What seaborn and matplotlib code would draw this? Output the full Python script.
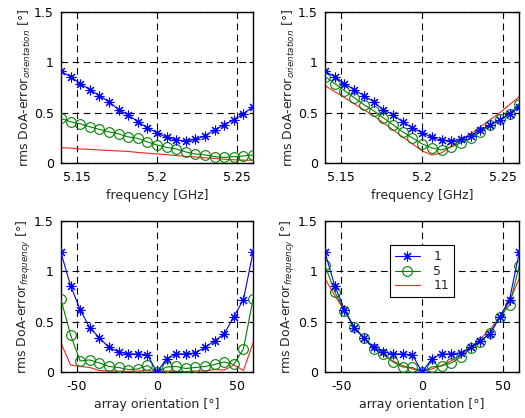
import matplotlib
matplotlib.use("Agg")
import matplotlib.pyplot as plt
import seaborn as sns
import numpy as np

# frequency axis (GHz) and array orientation axis (deg)
freq = [5.140, 5.146, 5.152, 5.158, 5.164, 5.170, 5.176, 5.182, 5.188, 5.194, 5.200,
        5.206, 5.212, 5.218, 5.224, 5.230, 5.236, 5.242, 5.248, 5.254, 5.260]
orient = [-60, -54, -48, -42, -36, -30, -24, -18, -12, -6, 0,
          6, 12, 18, 24, 30, 36, 42, 48, 54, 60]

# rms DoA-error over orientation, vs frequency
blue_f = [0.91, 0.86, 0.79, 0.73, 0.67, 0.61, 0.53, 0.48, 0.41, 0.35, 0.30,
          0.255, 0.228, 0.22, 0.235, 0.27, 0.33, 0.38, 0.43, 0.49, 0.56]
green_f1 = [0.444, 0.41, 0.39, 0.36, 0.335, 0.31, 0.29, 0.26, 0.245, 0.21, 0.18,
            0.155, 0.14, 0.11, 0.09, 0.08, 0.063, 0.056, 0.063, 0.07, 0.08]
red_f1 = [0.152, 0.148, 0.14, 0.135, 0.13, 0.125, 0.12, 0.115, 0.105, 0.098, 0.09,
          0.083, 0.075, 0.066, 0.06, 0.052, 0.045, 0.038, 0.032, 0.029, 0.027]
green_f2 = [0.86, 0.79, 0.72, 0.65, 0.58, 0.52, 0.45, 0.38, 0.31, 0.25, 0.19,
            0.15, 0.13, 0.16, 0.20, 0.245, 0.31, 0.377, 0.434, 0.49, 0.59]
red_f2 = [0.77, 0.71, 0.65, 0.59, 0.53, 0.47, 0.40, 0.33, 0.26, 0.19, 0.12,
          0.08, 0.10, 0.17, 0.23, 0.29, 0.36, 0.43, 0.50, 0.58, 0.66]

# rms DoA-error over frequency, vs array orientation
blue_a = [1.19, 0.86, 0.62, 0.44, 0.34, 0.245, 0.20, 0.18, 0.18, 0.17, 0.0,
          0.13, 0.18, 0.18, 0.19, 0.245, 0.31, 0.38, 0.55, 0.72, 1.19]
green_a3 = [0.725, 0.37, 0.11, 0.12, 0.09, 0.055, 0.045, 0.025, 0.03, 0.065, 0.0,
            0.05, 0.055, 0.035, 0.045, 0.055, 0.075, 0.10, 0.075, 0.23, 0.725]
red_a3 = [0.29, 0.07, 0.055, 0.045, 0.015, 0.01, 0.01, 0.005, 0.01, 0.015, 0.0,
          0.01, 0.005, 0.005, 0.01, 0.01, 0.025, 0.02, 0.07, 0.015, 0.29]
green_a4 = [1.06, 0.80, 0.61, 0.445, 0.34, 0.225, 0.18, 0.10, 0.05, 0.045, 0.0,
            0.05, 0.06, 0.09, 0.15, 0.235, 0.30, 0.39, 0.545, 0.665, 1.055]
red_a4 = [0.93, 0.76, 0.61, 0.45, 0.34, 0.245, 0.17, 0.11, 0.065, 0.03, 0.01,
          0.03, 0.065, 0.11, 0.17, 0.245, 0.33, 0.42, 0.55, 0.70, 0.93]

legend_labels = ["1", "5", "11"]
freq_ticks = [5.15, 5.2, 5.25]
freq_ticklabels = ["5.15", "5.2", "5.25"]
orient_ticks = [-50, 0, 50]
orient_ticklabels = ["-50", "0", "50"]
y_ticks = [0, 0.5, 1, 1.5]
y_ticklabels = ["0", "0.5", "1", "1.5"]

sns.set_style("ticks")
plt.rcParams["font.family"] = ["DejaVu Sans"]
plt.rcParams["mathtext.fontset"] = "dejavusans"

fig = plt.figure(figsize=(5.25, 4.18), dpi=100)
positions = [
    [0.116, 0.610, 0.366, 0.361],
    [0.619, 0.610, 0.370, 0.361],
    [0.116, 0.110, 0.366, 0.361],
    [0.619, 0.110, 0.370, 0.361],
]
axes = [fig.add_axes(p) for p in positions]

star = (8, 2, 0)
blue_kw = dict(color="#0000ff", marker=star, markersize=7, markeredgewidth=0.8,
               markeredgecolor="#0000ff", linewidth=0.8)
green_kw = dict(color="#008000", marker="o", markersize=7, markerfacecolor="none",
                markeredgewidth=0.8, markeredgecolor="#008000", linewidth=0.8)
red_kw = dict(color="#ff2020", linewidth=0.8)

panels = [
    (freq, blue_f, green_f1, red_f1, "orientation"),
    (freq, blue_f, green_f2, red_f2, "orientation"),
    (orient, blue_a, green_a3, red_a3, "frequency"),
    (orient, blue_a, green_a4, red_a4, "frequency"),
]

for i, (ax, (x, b, g, r, sub)) in enumerate(zip(axes, panels)):
    sns.lineplot(x=x, y=r, ax=ax, label=legend_labels[2], zorder=2, **red_kw)
    sns.lineplot(x=x, y=g, ax=ax, label=legend_labels[1], zorder=3, **green_kw)
    sns.lineplot(x=x, y=b, ax=ax, label=legend_labels[0], zorder=4, **blue_kw)

    if i < 2:
        ax.set_xlim(5.14, 5.26)
        ax.set_xticks(freq_ticks, freq_ticklabels)
        ax.set_xlabel("frequency [GHz]", fontsize=9, labelpad=3)
    else:
        ax.set_xlim(-60, 60)
        ax.set_xticks(orient_ticks, orient_ticklabels)
        ax.set_xlabel("array orientation [°]", fontsize=9, labelpad=3)
    ax.set_ylim(0, 1.5)
    ax.set_yticks(y_ticks, y_ticklabels)
    ax.set_ylabel(r"rms DoA-error$_{\mathit{" + sub + r"}}$ [°]", fontsize=9, labelpad=1)

    ax.grid(True, color="black", linestyle=(0, (6, 4)), linewidth=0.8)
    ax.tick_params(direction="in", length=3, width=0.8, labelsize=9,
                   top=True, right=True, colors="black")
    ax.tick_params(axis="x", pad=6)
    ax.tick_params(axis="y", pad=5)
    for s in ax.spines.values():
        s.set_visible(True)
        s.set_color("black")
        s.set_linewidth(1.0)

    handles, labels = ax.get_legend_handles_labels()
    if i == 3:
        order = [2, 1, 0]
        leg = ax.legend([handles[k] for k in order], [labels[k] for k in order],
                        loc="upper left", bbox_to_anchor=(0.30, 0.88), fontsize=9,
                        frameon=True, fancybox=False, edgecolor="black", framealpha=1,
                        borderpad=0.4, handlelength=2.0, labelspacing=0.12,
                        handletextpad=1.1)
        leg.get_frame().set_linewidth(0.8)
    else:
        ax.get_legend().remove()

fig.savefig("out.png", dpi=100)
